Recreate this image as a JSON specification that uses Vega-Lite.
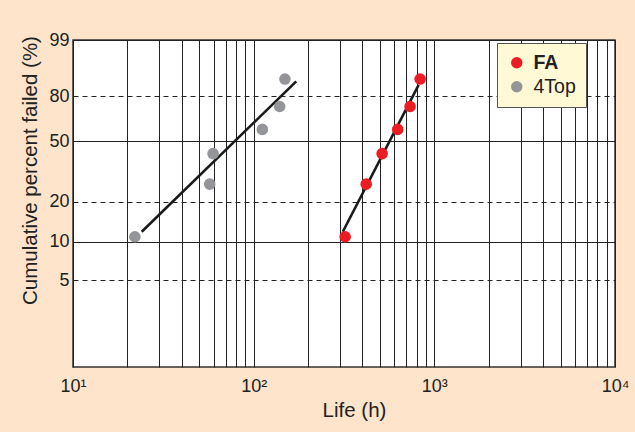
{
  "$schema": "https://vega.github.io/schema/vega-lite/v6.json",
  "width": 542,
  "height": 327,
  "autosize": "none",
  "padding": {"left": 73, "top": 40, "right": 20, "bottom": 65},
  "background": "#FDE4CA",
  "config": {
    "font": "Liberation Sans",
    "view": {"fill": "white", "stroke": "#333333", "strokeWidth": 1.5}
  },
  "datasets": {
    "pts": [
      {"series": "FA", "life": 321, "pct": 10.9},
      {"series": "FA", "life": 419.5, "pct": 26.6},
      {"series": "FA", "life": 514, "pct": 42.2},
      {"series": "FA", "life": 627, "pct": 57.8},
      {"series": "FA", "life": 734, "pct": 73.4},
      {"series": "FA", "life": 834, "pct": 89.1},
      {"series": "4Top", "life": 22.0, "pct": 10.9},
      {"series": "4Top", "life": 57.1, "pct": 26.6},
      {"series": "4Top", "life": 59.6, "pct": 42.2},
      {"series": "4Top", "life": 111.7, "pct": 57.8},
      {"series": "4Top", "life": 139.3, "pct": 73.4},
      {"series": "4Top", "life": 148.9, "pct": 89.1}
    ],
    "fits": [
      {"series": "4Top", "life": 24.0, "pct": 11.9},
      {"series": "4Top", "life": 172, "pct": 88.0},
      {"series": "FA", "life": 311.5, "pct": 11.9},
      {"series": "FA", "life": 819, "pct": 86.3}
    ]
  },
  "layer": [
    {
      "data": {"name": "fits"},
      "transform": [{"calculate": "log(-log(1 - datum.pct/100))", "as": "w"}],
      "mark": {"type": "line", "color": "#1a1a1a", "strokeWidth": 2.6},
      "encoding": {
        "x": {
          "field": "life", "type": "quantitative",
          "scale": {"type": "log", "domain": [10, 10000], "nice": false},
          "axis": {
            "title": "Life (h)",
            "titleFontSize": 20.5, "titleFontWeight": "normal", "titleColor": "#222222",
            "titlePadding": 5, "titleX": 281,
            "values": [10,20,30,40,50,60,70,80,90,100,200,300,400,500,600,700,800,900,1000,2000,3000,4000,5000,6000,7000,8000,9000,10000],
            "labelExpr": "datum.value == 10 ? '10¹' : datum.value == 100 ? '10²' : datum.value == 1000 ? '10³' : datum.value == 10000 ? '10⁴' : ''",
            "labelFontSize": 18, "labelColor": "#222222", "labelPadding": 10,
            "labelOverlap": false, "labelFlush": false,
            "ticks": false, "domain": false,
            "grid": true, "gridColor": "#222222", "gridWidth": 1, "gridOpacity": 1
          }
        },
        "y": {
          "field": "w", "type": "quantitative",
          "scale": {"domain": [-4.60015, 1.52718], "nice": false, "zero": false},
          "axis": {
            "title": "Cumulative percent  failed (%)",
            "titleFontSize": 20.5, "titleFontWeight": "normal", "titleColor": "#222222",
            "titlePadding": 8, "titleY": 130,
            "values": [-2.97020, -2.25037, -1.49994, -0.36651, 0.47588, 1.52718],
            "labelExpr": "format(round(100*(1-exp(-exp(datum.value)))), 'd')",
            "labelFontSize": 18, "labelColor": "#222222", "labelPadding": 4,
            "ticks": false, "domain": false,
            "grid": true, "gridColor": "#222222", "gridWidth": 1, "gridOpacity": 1,
            "gridDash": {"condition": {"test": "datum.value > 0 && datum.value < 1 || datum.value < -1.4 && datum.value > -1.6 || datum.value < -2.9", "value": [5, 4]}, "value": []}
          }
        },
        "detail": {"field": "series"}
      }
    },
    {
      "data": {"name": "pts"},
      "transform": [{"calculate": "log(-log(1 - datum.pct/100))", "as": "w"}],
      "mark": {"type": "point", "filled": true, "opacity": 1, "size": 135, "strokeWidth": 0},
      "encoding": {
        "x": {"field": "life", "type": "quantitative"},
        "y": {"field": "w", "type": "quantitative"},
        "color": {
          "field": "series", "type": "nominal",
          "scale": {"domain": ["FA", "4Top"], "range": ["#EC1C24", "#939598"]},
          "legend": {
            "title": null,
            "orient": "none", "legendX": 424, "legendY": 3,
            "fillColor": "#FFF9D6", "strokeColor": "#555555",
            "padding": 10, "symbolSize": 130, "symbolType": "circle",
            "labelFontSize": 19.5, "labelColor": "#222222", "labelOffset": 7,
            "labelFontWeight": {"expr": "datum.value == 'FA' ? 'bold' : 'normal'"},
            "rowPadding": 3,
            "symbolStrokeWidth": 0,
            "labelLimit": 200
          }
        }
      }
    }
  ]
}
